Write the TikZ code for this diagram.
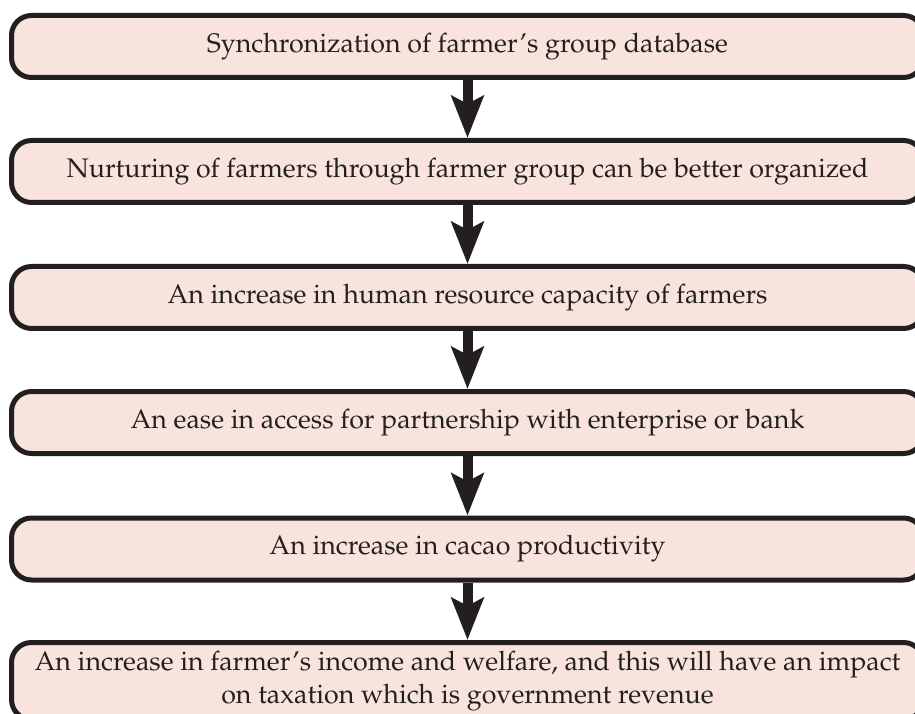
\documentclass[tikz,border=0pt]{standalone}
\usepackage[T1]{fontenc}
\usepackage{mathpazo}
\usetikzlibrary{arrows.meta}
\definecolor{boxfill}{RGB}{248,228,220}
\definecolor{ink}{RGB}{35,31,32}
\tikzset{
  flowbox/.style={draw=ink, fill=boxfill, line width=5pt, rounded corners=20pt,
    rectangle, minimum width=912pt, minimum height=62pt, inner sep=0pt,
    align=center, text=ink, font=\fontsize{26.8}{32.5}\selectfont},
  flowarrow/.style={draw=ink, fill=ink, line width=10pt,
    -{Stealth[length=42pt, width=32pt, inset=8pt]}}
}
\begin{document}
\begin{tikzpicture}[x=1pt,y=1pt]
\useasboundingbox (0,0) rectangle (915,713);
\clip (0,0) rectangle (915,713);
\node[flowbox] (b1) at (467.5,666.5) {Synchronization of farmer's group database};
\node[flowbox] (b2) at (467.5,541.5) {Nurturing of farmers through farmer group can be better organized};
\node[flowbox] (b3) at (467.5,415.5) {An increase in human resource capacity of farmers};
\node[flowbox] (b4) at (467.5,290.5) {An ease in access for partnership with enterprise or bank};
\node[flowbox] (b5) at (467.5,164) {An increase in cacao productivity};
\node[flowbox, minimum height=77pt] (b6) at (467.5,32) {An increase in farmer's income and welfare, and this will have an impact\\on taxation which is government revenue};
\draw[flowarrow] (b1.south) -- (b2.north);
\draw[flowarrow] (b2.south) -- (b3.north);
\draw[flowarrow] (b3.south) -- (b4.north);
\draw[flowarrow] (b4.south) -- (b5.north);
\draw[flowarrow] (b5.south) -- (b6.north);
\end{tikzpicture}
\end{document}
